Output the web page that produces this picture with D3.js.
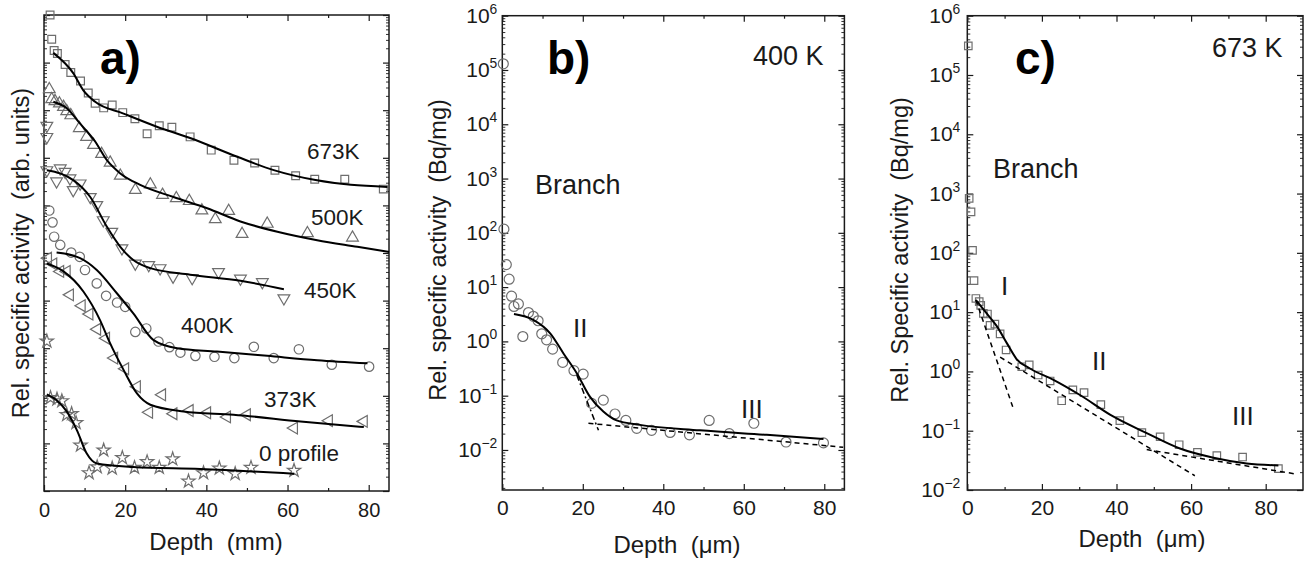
<!DOCTYPE html>
<html>
<head>
<meta charset="utf-8">
<script src="https://cdn.jsdelivr.net/npm/d3@7"></script>
<style>
  html, body { margin: 0; padding: 0; background: #fff; }
  svg { display: block; font-family: "Liberation Sans", Arial, Helvetica, sans-serif; }
</style>
</head>
<body>
<svg id="fig" width="1312" height="561"></svg>
<script>
// ---------- Panel a: depth profiles (mm), activity in arbitrary units ----------
const a673 = [[1.5,1.0e10],[1.9,3.1e9],[2.5,1.8e9],[3.3,1.55e9],[5.2,9.1e8],[6.6,6.2e8],[9.0,4.1e8],[10.9,2.3e8],[12.6,1.4e8],[14.7,1.12e8],[16.8,1.29e8],[19.4,8.9e7],[22.4,6.6e7],[25.4,3.2e7],[28.4,4.7e7],[31.5,4.4e7],[36.0,2.75e7],[41.2,1.45e7],[46.8,8.9e6],[51.9,7.8e6],[56.9,5.5e6],[62.0,4.2e6],[66.7,3.55e6],[74.1,3.55e6],[83.6,2.2e6]];
const a673Fit = [[2.3,1.6e9],[7.2,6.0e8],[9.7,2.6e8],[12.6,1.5e8],[19.6,8.5e7],[27.8,4.5e7],[36.0,2.6e7],[47.6,1.05e7],[56.6,5.5e6],[66.9,3.4e6],[75.6,2.7e6],[84.6,2.45e6]];

const a500 = [[1.3,2.75e8],[1.9,1.7e8],[2.7,1.55e8],[3.8,1.38e8],[4.8,1.17e8],[5.6,9.5e7],[6.6,7.8e7],[8.7,4.2e7],[10.5,2.75e7],[12.2,1.86e7],[14.2,1.2e7],[16.3,7.9e6],[18.8,4.2e6],[22.5,2.1e6],[26.2,2.75e6],[29.2,1.66e6],[32.6,1.41e6],[35.8,1.23e6],[38.9,7.8e5],[42.2,5.1e5],[45.5,7.6e5],[48.8,2.5e5],[55.0,4.1e5],[64.9,2.6e5],[76.0,2.1e5]];
const a500Fit = [[2.3,1.5e8],[5.6,1.1e8],[8.9,5.2e7],[12.6,2.2e7],[15.5,8.9e6],[18.8,4.7e6],[23.7,2.7e6],[31.9,1.5e6],[40.2,8.7e5],[48.4,4.6e5],[57.5,2.8e5],[67.3,1.86e5],[77.2,1.35e5],[85.0,1.05e5]];

const a450 = [[0.7,4.7e7],[0.7,2.75e7],[0.7,5.5e6],[3.1,3.2e6],[4.0,6.0e6],[5.2,5.1e6],[6.4,3.7e6],[7.2,2.1e6],[8.9,2.9e6],[11.4,1.5e6],[13.0,1.02e6],[14.6,4.9e5],[16.7,2.8e5],[19.2,1.26e5],[22.5,6.0e4],[25.8,5.6e4],[28.6,4.8e4],[31.8,3.2e4],[36.5,3.0e4],[43.0,4.0e4],[48.4,2.9e4],[53.8,2.45e4],[59.1,1.12e4]];
const a450Fit = [[0.7,5.5e6],[4.0,4.7e6],[7.2,3.4e6],[11.4,1.5e6],[15.5,3.55e5],[18.8,1.35e5],[22.0,7.1e4],[26.2,4.8e4],[36.0,3.5e4],[48.4,2.6e4],[59.1,1.74e4]];

const a400 = [[1.3,7.8e5],[2.1,4.4e5],[2.5,2.2e5],[4.0,1.48e5],[6.7,1.02e5],[8.8,8.3e4],[10.1,4.4e4],[13.0,2.3e4],[15.3,1.26e4],[18.0,9.1e3],[20.0,7.4e3],[22.5,2.2e3],[25.2,2.6e3],[28.2,1.38e3],[30.9,1.05e3],[33.6,810],[37.3,690],[42.0,660],[46.9,620],[51.7,1.07e3],[56.6,620],[62.8,950],[70.9,450],[80.1,410]];
const a400Fit = [[3.1,1.02e5],[8.9,7.8e4],[13.0,4.4e4],[18.0,1.41e4],[22.0,5.4e3],[27.0,1.48e3],[32.8,1.0e3],[42.6,850],[55.0,690],[67.3,560],[79.7,480]];

const a373 = [[1.0,7.8e4],[2.3,5.9e4],[4.0,4.1e4],[5.6,4.1e4],[6.4,1.32e4],[9.3,7.8e3],[11.2,5.2e3],[13.1,2.5e3],[15.3,1.62e3],[17.3,620],[20.0,370],[22.9,155],[25.9,45],[29.1,105],[31.9,42],[35.9,49],[40.2,44],[45.1,36],[50.0,40],[61.6,21],[70.2,30],[78.8,29]];
const a373Fit = [[0.7,6.0e4],[4.8,4.1e4],[9.7,1.55e4],[13.8,3.9e3],[16.3,1.26e3],[19.6,350],[22.9,112],[26.2,65],[34.4,47],[46.7,40],[63.2,29],[78.8,22]];

const a0 = [[0.7,1.4e3],[1.6,91],[3.2,85],[4.4,78],[5.6,40],[6.8,42],[7.9,27],[9.0,9.1],[11.1,2.4],[13.1,3.2],[14.7,7.2],[16.8,3.0],[19.3,5.0],[22.3,3.1],[25.4,4.1],[28.4,3.1],[31.7,4.7],[35.6,1.6],[39.3,2.4],[43.2,3.0],[47.1,2.3],[51.0,3.1],[61.6,2.7]];
const a0Fit = [[0.7,107],[3.1,81],[5.6,47],[8.1,19],[10.5,6.2],[13.0,3.8],[22.0,3.2],[38.5,2.9],[61.6,2.3]];

const labelsA = ["673K","500K","450K","400K","373K","0 profile"];

// ---------- Panel b: branch, 400 K (µm, Bq/mg) ----------
const b400 = [[0.25,1.3e5],[0.4,117],[1.0,26],[1.7,14],[2.3,6.8],[2.9,4.4],[4.0,4.9],[5.1,1.23],[6.5,3.4],[7.7,2.9],[8.9,2.4],[9.8,1.38],[11.0,1.07],[12.5,0.72],[15.0,0.41],[17.8,0.29],[20.1,0.25],[22.2,0.072],[25.1,0.083],[28.0,0.046],[30.7,0.035],[33.4,0.025],[37.1,0.023],[41.7,0.021],[46.5,0.019],[51.4,0.035],[56.4,0.020],[62.5,0.031],[70.5,0.014],[79.8,0.0135]];
const b400Fit = [[2.9,3.2],[7.7,2.5],[11.9,1.41],[15.2,0.60],[18.5,0.26],[21.8,0.095],[25.1,0.051],[28.4,0.035],[34.2,0.029],[49.1,0.023],[65.7,0.019],[79.8,0.016]];
const b400StageII = [[18.5,0.24],[23.9,0.023]];
const b400StageIII = [[21.4,0.031],[84.7,0.0112]];

// ---------- Panel c: branch, 673 K (µm, Bq/mg) ----------
const c673 = [[0.27,3.1e5],[0.5,830],[1.0,490],[1.4,110],[1.8,34],[2.3,17],[3.2,15],[3.6,13],[4.3,9.5],[5.4,9.3],[6.1,6.0],[7.4,6.3],[8.8,4.3],[10.4,2.3],[14.6,1.2],[16.6,1.29],[19.0,0.87],[22.2,0.69],[25.3,0.32],[28.3,0.49],[31.3,0.44],[35.8,0.275],[40.9,0.148],[46.8,0.093],[51.7,0.079],[56.8,0.058],[61.7,0.043],[66.9,0.038],[73.8,0.036],[83.4,0.023]];
const c673Fit = [[2.3,16],[5.2,9.5],[7.9,5.8],[10.6,3.0],[13.2,1.62],[16.8,1.12],[23.1,0.72],[30.2,0.40],[39.1,0.174],[48.1,0.091],[57.0,0.050],[66.0,0.035],[74.9,0.028],[83.4,0.026]];
const c673StageI = [[2.3,16],[12.3,0.24]];
const c673StageII = [[8.8,1.74],[61.0,0.0174]];
const c673StageIII = [[48.1,0.048],[88.1,0.0186]];

const xTicksMajor = [0, 20, 40, 60, 80];
const xTicksMinor = [10, 30, 50, 70];

// ---------- drawing ----------
const svg = d3.select("#fig");
const INK = "#1a1a1a";
const MARK = "#6e6e6e";

const supDigits = e => (e < 0 ? "\u2212" + (-e) : String(e));

function makePanel(o) {
  const g = svg.append("g");
  const x = d3.scaleLinear().domain(o.xDomain).range([o.left, o.right]);
  const y = d3.scaleLog().domain(o.yDomain).range([o.bottom, o.top]);

  const allY = y.ticks(40);
  const yMajor = allY.filter(v => Math.abs(Math.log10(v) - Math.round(Math.log10(v))) < 1e-9);
  const yMinor = allY.filter(v => !yMajor.includes(v));

  const strip = s => s.select(".domain").remove();
  const tickStyle = s => s.selectAll(".tick line").attr("stroke", INK).attr("stroke-width", 1.2);

  // bottom axis with labels, ticks pointing inward
  g.append("g").attr("transform", `translate(0,${o.bottom})`)
    .call(d3.axisBottom(x).tickValues(xTicksMajor).tickSize(-6).tickPadding(o.xPad).tickFormat(d3.format("d")))
    .call(strip).call(tickStyle)
    .call(s => s.selectAll("text").attr("font-size", o.tickFont).attr("fill", INK).attr("font-family", null));
  g.append("g").attr("transform", `translate(0,${o.bottom})`)
    .call(d3.axisBottom(x).tickValues(xTicksMinor).tickSize(-3).tickFormat(""))
    .call(strip).call(tickStyle);
  // top mirror
  g.append("g").attr("transform", `translate(0,${o.top})`)
    .call(d3.axisTop(x).tickValues(xTicksMajor).tickSize(-6).tickFormat(""))
    .call(strip).call(tickStyle);
  g.append("g").attr("transform", `translate(0,${o.top})`)
    .call(d3.axisTop(x).tickValues(xTicksMinor).tickSize(-3).tickFormat(""))
    .call(strip).call(tickStyle);

  // left / right log axes
  [[d3.axisLeft, o.left], [d3.axisRight, o.right]].forEach(([gen, tx]) => {
    g.append("g").attr("transform", `translate(${tx},0)`)
      .call(gen(y).tickValues(yMajor).tickSize(-6).tickFormat(""))
      .call(strip).call(tickStyle);
    g.append("g").attr("transform", `translate(${tx},0)`)
      .call(gen(y).tickValues(yMinor).tickSize(-3).tickFormat(""))
      .call(strip).call(tickStyle)
      .call(s => s.selectAll(".tick line").attr("stroke-width", 0.9));
  });

  if (o.powerLabels) {
    const lab = g.append("g").attr("font-size", o.tickFont).attr("fill", INK).attr("text-anchor", "end");
    yMajor.forEach(v => {
      const t = lab.append("text").attr("x", o.left - o.yPad).attr("y", y(v) + 7);
      t.append("tspan").text("10");
      t.append("tspan").attr("dy", -9).attr("font-size", o.tickFont * 0.66).text(supDigits(Math.round(Math.log10(v))));
    });
  }

  // frame
  g.append("rect")
    .attr("x", o.left).attr("y", o.top)
    .attr("width", o.right - o.left).attr("height", o.bottom - o.top)
    .attr("fill", "none").attr("stroke", INK).attr("stroke-width", 1.5);

  // axis titles
  g.append("text")
    .attr("transform", `translate(${o.yTitleX},${o.yTitleY}) rotate(-90)`)
    .attr("text-anchor", "middle").attr("font-size", 23.5).attr("fill", INK)
    .style("white-space", "pre").text(o.yTitle);
  g.append("text")
    .attr("x", o.xTitleX).attr("y", o.xTitleY)
    .attr("text-anchor", "middle").attr("font-size", 24).attr("fill", INK)
    .style("white-space", "pre").text(o.xTitle);

  // panel letter
  g.append("text").attr("x", o.letterX).attr("y", 74)
    .attr("font-size", 46).attr("font-weight", "bold").attr("fill", "#000").text(o.letter);

  return { g, x, y };
}

function drawMarkers(p, data, type, size, rot, stroke) {
  const sym = d3.symbol().type(type).size(size);
  p.g.append("g").selectAll("path").data(data).join("path")
    .attr("d", sym)
    .attr("transform", d => `translate(${p.x(d[0])},${p.y(d[1])}) rotate(${rot})`)
    .attr("fill", "none").attr("stroke", stroke || MARK).attr("stroke-width", 1.2);
}

function drawLine(p, data, dash, curve, width) {
  const line = d3.line().x(d => p.x(d[0])).y(d => p.y(d[1])).curve(curve || d3.curveMonotoneX);
  p.g.append("path").datum(data)
    .attr("d", line).attr("fill", "none").attr("stroke", "#000")
    .attr("stroke-width", width || 2).attr("stroke-dasharray", dash || null);
}

function drawText(p, str, x, y, size) {
  p.g.append("text").attr("x", x).attr("y", y).attr("font-size", size).attr("fill", INK)
    .style("white-space", "pre").text(str);
}

// Panel a
const pa = makePanel({
  left: 44, right: 389, top: 15, bottom: 491,
  xDomain: [0, 85], yDomain: [1, 1e10],
  tickFont: 20, xPad: 12, powerLabels: false,
  yTitle: "Rel. specific activity  (arb. units)", yTitleX: 29, yTitleY: 253,
  xTitle: "Depth  (mm)", xTitleX: 216, xTitleY: 550,
  letter: "a)", letterX: 100
});
drawMarkers(pa, a673, d3.symbolSquare, 60, 0);
drawMarkers(pa, a500, d3.symbolTriangle, 60, 0);
drawMarkers(pa, a450, d3.symbolTriangle, 60, 180);
drawMarkers(pa, a400, d3.symbolCircle, 70, 0);
drawMarkers(pa, a373, d3.symbolTriangle, 60, -90);
drawMarkers(pa, a0, d3.symbolStar, 55, 0);
[a673Fit, a500Fit, a450Fit, a400Fit, a373Fit, a0Fit].forEach(f => drawLine(pa, f));
const labelPosA = [[307,159],[311,225],[304,298],[181,333],[264,407],[259,461]];
labelsA.forEach((t, i) => drawText(pa, t, labelPosA[i][0], labelPosA[i][1], 22.5));

// Panel b
const pb = makePanel({
  left: 502.3, right: 844.4, top: 15.7, bottom: 490,
  xDomain: [0, 85], yDomain: [1.83e-3, 1e6],
  tickFont: 21, xPad: 10, yPad: 5, powerLabels: true,
  yTitle: "Rel. specific activity  (Bq/mg)", yTitleX: 446, yTitleY: 250,
  xTitle: "Depth  (\u03bcm)", xTitleX: 677, xTitleY: 553,
  letter: "b)", letterX: 547
});
drawMarkers(pb, b400, d3.symbolCircle, 78, 0);
drawLine(pb, b400Fit);
drawLine(pb, b400StageII, "6,3,2,3", d3.curveLinear, 1.5);
drawLine(pb, b400StageIII, "5,4", d3.curveLinear, 1.5);
drawText(pb, "400 K", 753, 65, 27);
drawText(pb, "Branch", 535, 194, 27);
drawText(pb, "II", 573, 337, 26);
drawText(pb, "III", 741, 418, 26);

// Panel c
const pc = makePanel({
  left: 967.3, right: 1303, top: 15.7, bottom: 490,
  xDomain: [0, 90], yDomain: [1e-2, 1e6],
  tickFont: 21, xPad: 10, yPad: 7, powerLabels: true,
  yTitle: "Rel. Specific activity  (Bq/mg)", yTitleX: 908, yTitleY: 250,
  xTitle: "Depth  (\u03bcm)", xTitleX: 1142, xTitleY: 547,
  letter: "c)", letterX: 1015
});
drawMarkers(pc, c673, d3.symbolSquare, 56, 0);
drawLine(pc, c673Fit);
drawLine(pc, c673StageI, "5,4", d3.curveLinear, 1.5);
drawLine(pc, c673StageII, "5,4", d3.curveLinear, 1.5);
drawLine(pc, c673StageIII, "5,4", d3.curveLinear, 1.5);
drawText(pc, "673 K", 1212, 57, 27);
drawText(pc, "Branch", 993, 178, 27);
drawText(pc, "I", 1001, 295, 26);
drawText(pc, "II", 1092, 370, 26);
drawText(pc, "III", 1232, 425, 26);
</script>
</body>
</html>
